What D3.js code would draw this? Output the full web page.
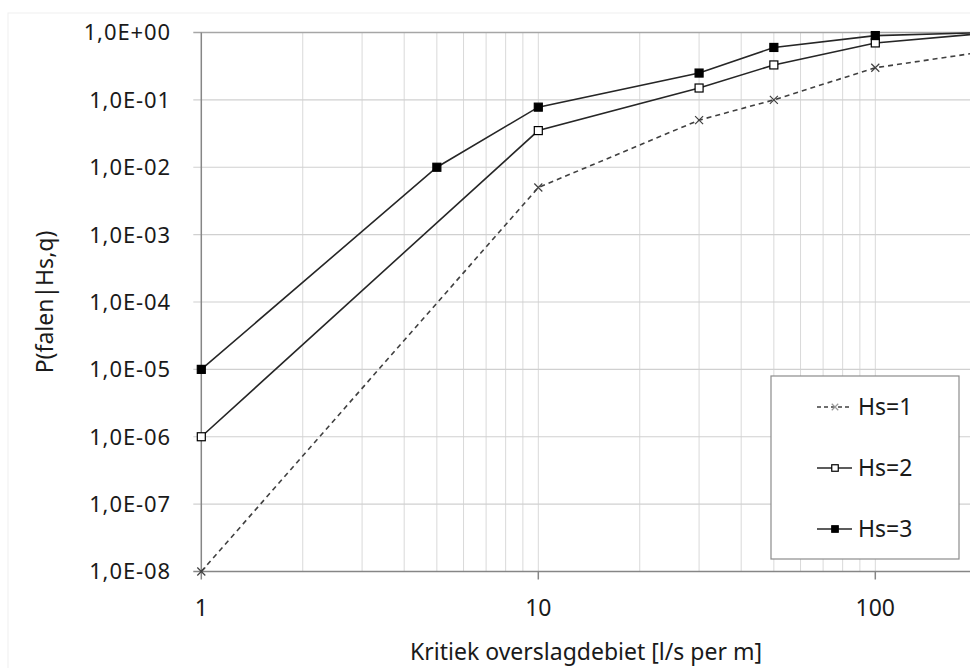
<!DOCTYPE html>
<html>
<head>
<meta charset="utf-8">
<script src="https://cdn.jsdelivr.net/npm/d3@7"></script>
<style>
  body { margin: 0; background: #fff; }
  svg { display: block; font-family: "Noto Sans", "Open Sans", sans-serif; }
</style>
</head>
<body>
<div id="vis"></div>
<script>
// data
const debiet = [1, 5, 10, 30, 50, 100, 200];
const hs1 = [1e-8, null, 0.005, 0.05, 0.1, 0.3, 0.5];
const hs2 = [1e-6, null, 0.035, 0.15, 0.33, 0.7, 0.95];
const hs3 = [1e-5, 0.01, 0.078, 0.25, 0.6, 0.9, 0.99];
const seriesNames = ["Hs=1", "Hs=2", "Hs=3"];
const yTickExps = [0, -1, -2, -3, -4, -5, -6, -7, -8];
const xTickLabels = [1, 10, 100];

const width = 970;
const height = 668;

const x = d3.scaleLog().domain([1, 1000]).range([201.3, 201.3 + 3 * 337]);
const y = d3.scaleLog().domain([1e-8, 1]).range([571.5, 32.5]);

const svg = d3.select("#vis")
  .append("svg")
  .attr("width", width)
  .attr("height", height);

// faint outer chart border
svg.append("rect")
  .attr("x", 8).attr("y", 13)
  .attr("width", width + 20).attr("height", height)
  .attr("fill", "none")
  .attr("stroke", "#f0f0f0");

// vertical grid (minor + major)
const xGrid = x.ticks().filter(d => d > 1);
svg.append("g")
  .selectAll("line")
  .data(xGrid)
  .enter()
  .append("line")
  .attr("x1", d => x(d)).attr("x2", d => x(d))
  .attr("y1", y(1)).attr("y2", y(1e-8))
  .attr("stroke", "#d9d9d9")
  .attr("stroke-width", 1);

// horizontal grid
const yVals = yTickExps.map(e => Math.pow(10, e));
svg.append("g")
  .selectAll("line")
  .data(yVals.filter(v => v > 1e-8))
  .enter()
  .append("line")
  .attr("x1", x(1) - 8).attr("x2", width)
  .attr("y1", d => y(d)).attr("y2", d => y(d))
  .attr("stroke", d => d === 1 ? "#a6a6a6" : "#d0d0d0")
  .attr("stroke-width", d => d === 1 ? 1.5 : 1.2);

// assen
svg.append("line")
  .attr("x1", x(1)).attr("x2", x(1))
  .attr("y1", y(1)).attr("y2", y(1e-8))
  .attr("stroke", "#868686").attr("stroke-width", 1.5);

svg.append("line")
  .attr("x1", x(1) - 8).attr("x2", width)
  .attr("y1", y(1e-8)).attr("y2", y(1e-8))
  .attr("stroke", "#868686").attr("stroke-width", 1.5);

// x major ticks
svg.append("g")
  .selectAll("line")
  .data(xTickLabels)
  .enter()
  .append("line")
  .attr("x1", d => x(d)).attr("x2", d => x(d))
  .attr("y1", y(1e-8)).attr("y2", y(1e-8) + 8)
  .attr("stroke", "#868686").attr("stroke-width", 1.5);

const fmtExp = e => "1,0E" + (e >= 0 ? "+" : "-") + String(Math.abs(e)).padStart(2, "0");

svg.append("g")
  .selectAll("text")
  .data(yTickExps)
  .enter()
  .append("text")
  .attr("x", 171)
  .attr("y", e => y(Math.pow(10, e)))
  .attr("dy", "0.36em")
  .attr("text-anchor", "end")
  .attr("font-size", 22)
  .attr("letter-spacing", 0.9)
  .attr("fill", "#1a1a1a")
  .text(fmtExp);

svg.append("g")
  .selectAll("text")
  .data(xTickLabels)
  .enter()
  .append("text")
  .attr("x", d => x(d))
  .attr("y", 616)
  .attr("text-anchor", "middle")
  .attr("font-size", 23)
  .attr("fill", "#1a1a1a")
  .text(d => d);

// titels
svg.append("text")
  .attr("x", 586)
  .attr("y", 660)
  .attr("text-anchor", "middle")
  .attr("font-size", 23)
  .attr("fill", "#1a1a1a")
  .text("Kritiek overslagdebiet [l/s per m]");

svg.append("text")
  .attr("transform", "translate(53,302) rotate(-90)")
  .attr("text-anchor", "middle")
  .attr("font-size", 23)
  .attr("fill", "#1a1a1a")
  .text("P(falen|Hs,q)");

// series
const series = [
  { name: seriesNames[0], values: hs1, dash: "5,4", marker: "cross", color: "#404040" },
  { name: seriesNames[1], values: hs2, dash: null, marker: "open", color: "#262626" },
  { name: seriesNames[2], values: hs3, dash: null, marker: "filled", color: "#262626" }
];

const line = d3.line()
  .x(d => x(d.q))
  .y(d => y(d.v));

function drawMarker(g, type, cx, cy, color, size) {
  const h = size / 2;
  if (type === "cross") {
    g.append("path")
      .attr("d", `M${cx - h},${cy - h}L${cx + h},${cy + h}M${cx - h},${cy + h}L${cx + h},${cy - h}`)
      .attr("stroke", color).attr("stroke-width", 1.2).attr("fill", "none");
  } else {
    g.append("rect")
      .attr("x", cx - h).attr("y", cy - h)
      .attr("width", size).attr("height", size)
      .attr("fill", type === "filled" ? "#000" : "#fff")
      .attr("stroke", "#000").attr("stroke-width", 1.2);
  }
}

series.forEach(s => {
  const pts = debiet.map((q, i) => ({ q, v: s.values[i] })).filter(d => d.v != null);
  svg.append("path")
    .datum(pts)
    .attr("d", line)
    .attr("fill", "none")
    .attr("stroke", s.color)
    .attr("stroke-width", 1.6)
    .attr("stroke-dasharray", s.dash);
  const g = svg.append("g");
  pts.forEach(d => drawMarker(g, s.marker, x(d.q), y(d.v), s.color, 8));
});

// legenda
const legend = svg.append("g");
legend.append("rect")
  .attr("x", 771).attr("y", 376)
  .attr("width", 188).attr("height", 183)
  .attr("fill", "#fff")
  .attr("stroke", "#8c8c8c").attr("stroke-width", 1.2);

const rowY = [407, 468, 529];
series.forEach((s, i) => {
  legend.append("line")
    .attr("x1", 817).attr("x2", 852)
    .attr("y1", rowY[i]).attr("y2", rowY[i])
    .attr("stroke", s.color)
    .attr("stroke-width", 1.6)
    .attr("stroke-dasharray", s.dash ? "4,3" : null);
  drawMarker(legend, s.marker, 835, rowY[i], s.marker === "cross" ? "#999" : s.color, 6.5);
  legend.append("text")
    .attr("x", 858)
    .attr("y", rowY[i])
    .attr("dy", "0.36em")
    .attr("font-size", 23)
    .attr("fill", "#1a1a1a")
    .text(s.name);
});
</script>
</body>
</html>
